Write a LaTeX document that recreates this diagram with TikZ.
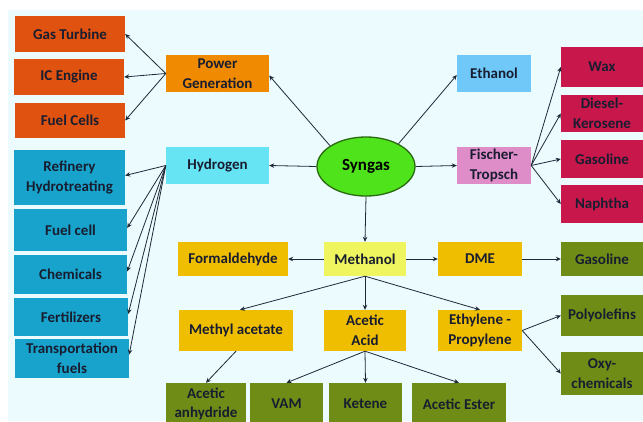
\documentclass[tikz,border=0pt]{standalone}
\usepackage{fontspec}
\setmainfont{Carlito}
\usetikzlibrary{shapes.geometric,arrows.meta}
\definecolor{bgc}{HTML}{ECFBFD}
\definecolor{redorange}{HTML}{E0520F}
\definecolor{powc}{HTML}{F08A00}
\definecolor{hydc}{HTML}{66E4F4}
\definecolor{bluec}{HTML}{17A3CB}
\definecolor{ethc}{HTML}{70C8F8}
\definecolor{ftc}{HTML}{DF8DC9}
\definecolor{crim}{HTML}{C8174B}
\definecolor{syngc}{HTML}{4FE31B}
\definecolor{syngb}{HTML}{2A6A10}
\definecolor{methc}{HTML}{EEF55E}
\definecolor{goldc}{HTML}{F0BE00}
\definecolor{olivec}{HTML}{6E8C16}
\definecolor{txtc}{HTML}{181D30}
\definecolor{linec}{HTML}{1E2838}
\tikzset{
  box/.style={rectangle, inner sep=0pt, align=center, text=txtc,
    font=\fontsize{15}{19.5}\selectfont\bfseries},
  arr/.style={draw=linec, line width=0.8pt, -{Stealth[length=5pt,width=4.5pt]}}
}
\begin{document}
\begin{tikzpicture}[x=1pt,y=-1pt]
\useasboundingbox (0,0) rectangle (643,421);
\fill[white] (0,0) rectangle (643,421);
\fill[bgc] (8,10) rectangle (643,421);
% left column
\node[box,fill=redorange,minimum width=110,minimum height=36] (gasturb) at (70,34) {Gas Turbine};
\node[box,fill=redorange,minimum width=110,minimum height=36] (icengine) at (69,77) {IC Engine};
\node[box,fill=redorange,minimum width=110,minimum height=35] (fuelcells) at (70,120.5) {Fuel Cells};
\node[box,fill=bluec,minimum width=111,minimum height=55] (refinery) at (69.5,177.5) {Refinery\\Hydrotreating};
\node[box,fill=bluec,minimum width=113,minimum height=42] (fuelcell) at (70.5,230) {Fuel cell};
\node[box,fill=bluec,minimum width=113,minimum height=39] (chem) at (70.5,274.5) {Chemicals};
\node[box,fill=bluec,minimum width=114,minimum height=38] (fert) at (71,317) {Fertilizers};
\node[box,fill=bluec,minimum width=114,minimum height=39] (transp) at (72,358.5) {Transportation\\fuels};
% second column
\node[box,fill=powc,minimum width=103,minimum height=37] (power) at (217.5,73.5) {Power\\Generation};
\node[box,fill=hydc,minimum width=103,minimum height=37] (hydrogen) at (217.5,165.5) {Hydrogen};
% centre
\node[ellipse,draw=syngb,line width=1.3pt,fill=syngc,minimum width=98,minimum height=59,inner sep=0pt,
  font=\fontsize{17}{20}\selectfont\bfseries,text=black] (syngas) at (366,166.5) {Syngas};
\node[box,fill=ethc,minimum width=74,minimum height=37] (ethanol) at (494,73.5) {Ethanol};
\node[box,fill=ftc,minimum width=74,minimum height=37] (ft) at (494,165.5) {Fischer-\\Tropsch};
% FT products
\node[box,fill=crim,minimum width=82,minimum height=40] (wax) at (602,67) {Wax};
\node[box,fill=crim,minimum width=82,minimum height=37] (diesel) at (602,113.5) {Diesel-\\Kerosene};
\node[box,fill=crim,minimum width=82,minimum height=38] (gasft) at (602,159) {Gasoline};
\node[box,fill=crim,minimum width=82,minimum height=38] (naphtha) at (602,204) {Naphtha};
% methanol row
\node[box,fill=goldc,minimum width=110,minimum height=34] (formald) at (233,259) {Formaldehyde};
\node[box,fill=methc,minimum width=82,minimum height=34] (methanol) at (365,259) {Methanol};
\node[box,fill=goldc,minimum width=84,minimum height=34] (dme) at (480,259) {DME};
\node[box,fill=olivec,minimum width=82,minimum height=34] (gasg) at (602,259) {Gasoline};
% next row
\node[box,fill=goldc,minimum width=114,minimum height=41] (methacet) at (236,330.5) {Methyl acetate};
\node[box,fill=goldc,minimum width=82,minimum height=41] (acetacid) at (365,330.5) {Acetic\\Acid};
\node[box,fill=goldc,minimum width=84,minimum height=41] (ethyl) at (480,330.5) {Ethylene -\\Propylene};
\node[box,fill=olivec,minimum width=82,minimum height=41] (polyol) at (602,315.5) {Polyolefins};
\node[box,fill=olivec,minimum width=82,minimum height=43] (oxy) at (602,373.5) {Oxy-\\chemicals};
% bottom row
\node[box,fill=olivec,minimum width=80,minimum height=42] (anhyd) at (206,404) {Acetic\\anhydride};
\node[box,fill=olivec,minimum width=73,minimum height=42] (vam) at (286.5,404) {VAM};
\node[box,fill=olivec,minimum width=73,minimum height=42] (ketene) at (365.5,404) {Ketene};
\node[box,fill=olivec,minimum width=94,minimum height=42] (acester) at (459,404) {Acetic Ester};
% connectors
\draw[arr] (power.west) -- (gasturb.east);
\draw[arr] (power.west) -- (icengine.east);
\draw[arr] (power.west) -- (fuelcells.east);
\draw[arr] (hydrogen.west) -- ([yshift=2pt]refinery.east);
\draw[arr] (hydrogen.west) -- ([yshift=2pt]fuelcell.east);
\draw[arr] (hydrogen.west) -- ([yshift=3pt]chem.east);
\draw[arr] (hydrogen.west) -- ([yshift=3pt]fert.east);
\draw[arr] (hydrogen.west) -- ([yshift=4pt]transp.east);
\draw[arr] (syngas.150) -- ([yshift=-2pt]power.east);
\draw[arr] (syngas.west) -- (hydrogen.east);
\draw[arr] (syngas.35) -- ([yshift=-1.5pt]ethanol.west);
\draw[arr] (syngas.east) -- (ft.west);
\draw[arr] (syngas.south) -- (methanol.north);
\draw[arr] (ft.east) -- (wax.west);
\draw[arr] (ft.east) -- (diesel.west);
\draw[arr] (ft.east) -- (gasft.west);
\draw[arr] (ft.east) -- (naphtha.west);
\draw[arr] (methanol.west) -- (formald.east);
\draw[arr] (methanol.east) -- (dme.west);
\draw[arr] (dme.east) -- (gasg.west);
\draw[arr] (methanol.south) -- ([xshift=4pt]methacet.north);
\draw[arr] (methanol.south) -- (acetacid.north);
\draw[arr] (methanol.south) -- (ethyl.north);
\draw[arr] (ethyl.east) -- (polyol.west);
\draw[arr] (ethyl.east) -- (oxy.west);
\draw[arr] (methacet.south) -- (anhyd.north);
\draw[arr] (acetacid.south) -- (vam.north);
\draw[arr] (acetacid.south) -- (ketene.north);
\draw[arr] (acetacid.south) -- (acester.north);
\end{tikzpicture}
\end{document}
